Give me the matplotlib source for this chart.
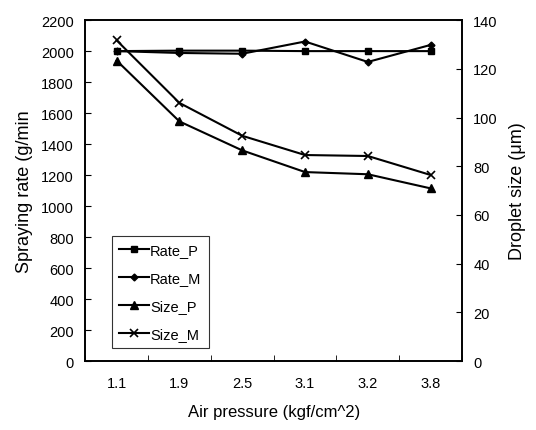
import numpy as np
import matplotlib
matplotlib.use('Agg')
import matplotlib.pyplot as plt

# Dữ liệu
pressure = ['1.1', '1.9', '2.5', '3.1', '3.2', '3.8']
rate_p = [2000, 2003, 2003, 2000, 2000, 2000]
rate_m = [2000, 1988, 1983, 2062, 1930, 2040]
size_p = [123.4, 98.4, 86.5, 77.6, 76.7, 70.9]
size_m = [131.7, 106.0, 92.5, 84.6, 84.2, 76.4]

plt.rcParams['font.family'] = ['Liberation Sans', 'DejaVu Sans']

fig = plt.figure(figsize=(5.36, 4.31), dpi=100)
ax = fig.add_axes([0.159, 0.160, 0.703, 0.791])
ax2 = ax.twinx()

x = np.arange(len(pressure))
kw = dict(color='black', lw=1.5)
l1, = ax.plot(x, rate_p, marker='s', ms=5, label='Rate_P', **kw)
l2, = ax.plot(x, rate_m, marker='D', ms=3.5, label='Rate_M', **kw)
l3, = ax2.plot(x, size_p, marker='^', ms=6, label='Size_P', **kw)
l4, = ax2.plot(x, size_m, marker='x', ms=6, mew=1.2, label='Size_M', **kw)

ax.set_xlim(-0.5, len(pressure) - 0.5)
ax.set_ylim(0, 2200)
ax.set_yticks(range(0, 2201, 200))
ax2.set_ylim(0, 140)
ax2.set_yticks(range(0, 141, 20))

ax.set_xticks(x)
ax.set_xticklabels(pressure)
ax.set_xticks(np.arange(-0.5, len(pressure)), minor=True)
ax.tick_params(axis='x', which='major', length=0, pad=11, labelsize=10.5)
ax.tick_params(axis='x', which='minor', direction='in', length=4)
ax.tick_params(axis='y', direction='in', length=4, labelsize=10.5, pad=8)
ax2.tick_params(axis='y', direction='in', length=4, labelsize=10.5, pad=8)

for a in (ax, ax2):
    for s in a.spines.values():
        s.set_linewidth(1.2)

ax.set_xlabel('Air pressure (kgf/cm^2)', fontsize=12, labelpad=10)
ax.set_ylabel('Spraying rate (g/min', fontsize=13, labelpad=6)
ax2.set_ylabel('Droplet size (\u03bcm)', fontsize=13, labelpad=8)

leg = ax.legend(handles=[l1, l2, l3, l4], loc='lower left',
                bbox_to_anchor=(0.06, 0.025), fancybox=False,
                edgecolor='black', fontsize=10.5, handlelength=2.0,
                handletextpad=0.1, labelspacing=0.95, borderpad=0.5,
                borderaxespad=0.3)
leg.get_frame().set_linewidth(0.8)

fig.savefig('out.png', dpi=100)
